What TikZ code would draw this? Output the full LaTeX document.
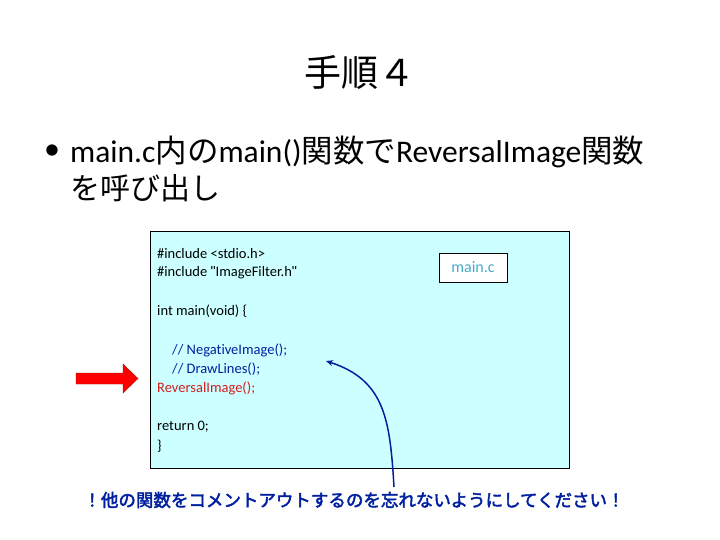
\documentclass[tikz,border=0pt]{standalone}
\usepackage{fontspec}
\setmainfont{Carlito}[Ligatures={NoCommon}]
\newfontfamily\jp{Noto Sans CJK JP}
\newfontfamily\jpb{Noto Sans CJK JP}[FakeBold=2.5]
\newfontfamily\qfont{Liberation Sans}
\usetikzlibrary{arrows.meta}
\definecolor{codebg}{RGB}{204,255,255}
\definecolor{cblue}{RGB}{0,32,160}
\definecolor{cred}{RGB}{210,30,30}
\definecolor{ccyan}{RGB}{70,170,200}
\begin{document}
\begin{tikzpicture}[x=1pt,y=-1pt,
  code/.style={anchor=west,inner sep=0,font=\fontsize{14.5}{17}\selectfont}]
\useasboundingbox (0,0) rectangle (720,540);
\node[font=\jp\fontsize{37}{40}\selectfont] (title) at (360,72) {手順４};
\node[anchor=west,inner sep=0,font=\fontsize{32}{36}\selectfont] (b1) at (44,152) {•};
\node[anchor=west,inner sep=0,font=\fontsize{31.5}{36}\selectfont] (l1) at (70,152) {main.c{\jp 内の}main(){\jp 関数で}ReversalImage{\jp 関数}};
\node[anchor=west,inner sep=0,font=\jp\fontsize{30}{35}\selectfont] (l2) at (70,188) {を呼び出し};
\node[draw=black,fill=codebg,minimum width=419,minimum height=237,anchor=north west,inner sep=0] (box) at (150,231) {};
\node[code] (c1) at (157,254) {\#include <stdio.h>};
\node[code] (c2) at (157,273) {\#include {\qfont\symbol{34}}ImageFilter.h{\qfont\symbol{34}}};
\node[code] (c3) at (157,311) {int main(void) \{};
\node[code,text=cblue] (c4) at (172,350) {// NegativeImage();};
\node[code,text=cblue] (c5) at (172,369) {// DrawLines();};
\node[code,text=cred] (c6) at (157,388) {ReversalImage();};
\node[code] (c7) at (157,427) {return 0;};
\node[code] (c8) at (157,446) {\}};
\node[draw=black,fill=white,minimum width=68,minimum height=29,inner sep=0,text=ccyan,font=\fontsize{16}{18}\selectfont] (mc) at (473,267.5) {main.c};
\node[text=cblue,font=\jpb\fontsize{17.5}{20}\selectfont] (warn) at (354,500) {！他の関数をコメントアウトするのを忘れないようにしてください！};
\coordinate (ws) at (394,487);
\coordinate (wt) at (326,361);
\draw[cblue,line width=1.5,-{Stealth[length=7,width=6]}] (ws) .. controls (390,420) and (385,380) .. (wt);
\draw[fill=red,draw=cred!70!black] (76,373) -- (123,373) -- (123,364) -- (138,378.5) -- (123,393) -- (123,384) -- (76,384) -- cycle;
\end{tikzpicture}
\end{document}
